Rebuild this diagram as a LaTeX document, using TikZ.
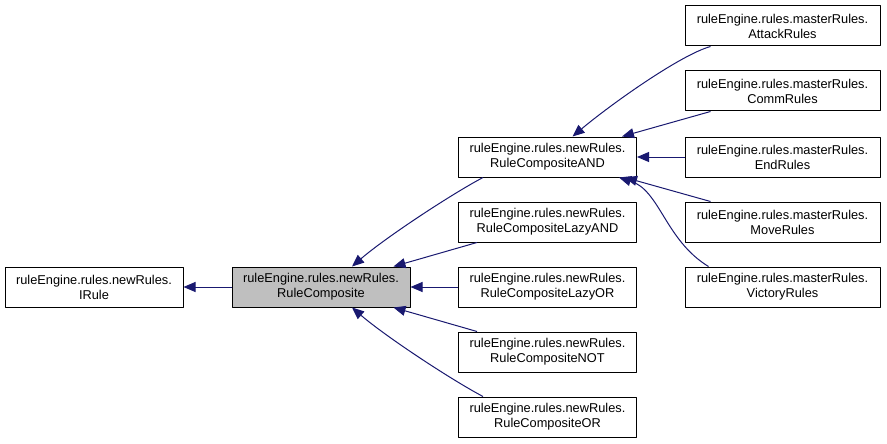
\documentclass[tikz,border=0pt]{standalone}
\usepackage{fontspec}
\setmainfont{Liberation Sans}
\usetikzlibrary{arrows.meta}
\definecolor{edgeblue}{HTML}{191970}
\definecolor{boxgray}{HTML}{BFBFBF}
\begin{document}
\begin{tikzpicture}[x=1pt, y=-1pt, line join=round,
	cls/.style={draw=black, fill=white, line width=1pt, rectangle, minimum width=178pt, minimum height=40pt,
		inner sep=0pt, align=center, font=\fontsize{12.8}{15}\selectfont},
	wide/.style={cls, minimum width=195pt},
	edge/.style={draw=edgeblue, line width=1pt, -{Triangle[length=12pt,width=10pt]}}]
	
	\useasboundingbox (0,0) rectangle (887,444);
	
	% ---------- left: interface and composite ----------
	\node[cls] (irule) at (94,287) {ruleEngine.rules.newRules.\\IRule};
	\node[cls, fill=boxgray] (comp) at (321,287) {ruleEngine.rules.newRules.\\RuleComposite};
	
	% ---------- middle column ----------
	\node[cls] (and) at (547.5,157) {ruleEngine.rules.newRules.\\RuleCompositeAND};
	\node[cls] (lazyand) at (547.5,222) {ruleEngine.rules.newRules.\\RuleCompositeLazyAND};
	\node[cls] (lazyor) at (547.5,287) {ruleEngine.rules.newRules.\\RuleCompositeLazyOR};
	\node[cls] (not) at (547.5,352) {ruleEngine.rules.newRules.\\RuleCompositeNOT};
	\node[cls] (or) at (547.5,417) {ruleEngine.rules.newRules.\\RuleCompositeOR};
	
	% ---------- right column ----------
	\node[wide] (attack) at (782.5,26) {ruleEngine.rules.masterRules.\\AttackRules};
	\node[wide] (comm) at (782.5,91) {ruleEngine.rules.masterRules.\\CommRules};
	\node[wide] (end) at (782.5,157) {ruleEngine.rules.masterRules.\\EndRules};
	\node[wide] (move) at (782.5,222) {ruleEngine.rules.masterRules.\\MoveRules};
	\node[wide] (victory) at (782.5,287) {ruleEngine.rules.masterRules.\\VictoryRules};
	
	% ---------- inheritance edges ----------
	\draw[edge] (comp) -- (irule);
	
	\draw[edge] ([xshift=25pt]and.south west)
	.. controls (450,195) and (385,238) .. ([xshift=31pt]comp.north);
	\draw[edge] ([xshift=19pt]lazyand.south west) -- ([xshift=-17pt]comp.north east);
	\draw[edge] (lazyor) -- (comp);
	\draw[edge] ([xshift=19pt]not.north west) -- ([xshift=-17pt]comp.south east);
	\draw[edge] ([xshift=25pt]or.north west)
	.. controls (450,379) and (385,336) .. ([xshift=31pt]comp.south);
	
	\draw[edge] ([xshift=26pt]attack.south west)
	.. controls (680,55) and (610,105) .. ([xshift=25pt]and.north);
	\draw[edge] ([xshift=26pt]comm.south west) -- ([xshift=-15pt]and.north east);
	\draw[edge] (end) -- (and);
	\draw[edge] ([xshift=26pt]move.north west) -- ([xshift=-12pt]and.south east);
	\draw[edge] ([xshift=24pt]victory.north west)
	.. controls (665,240) and (660,190) .. ([xshift=-18pt]and.south east);
	
\end{tikzpicture}
\end{document}
